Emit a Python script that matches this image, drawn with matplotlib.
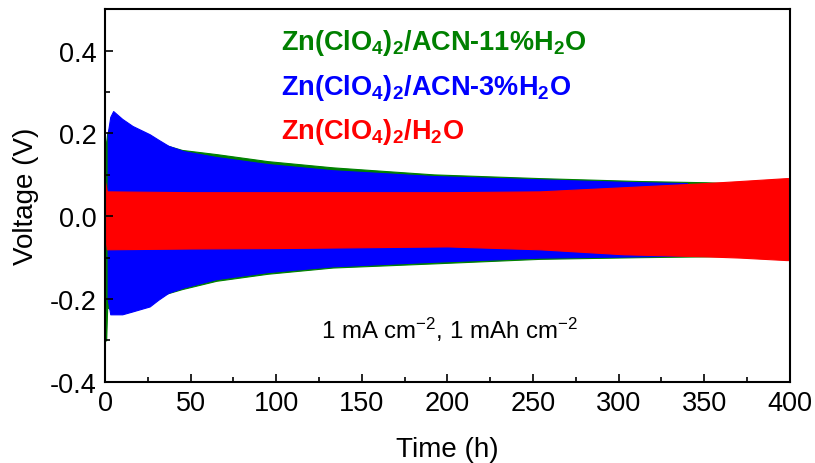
import matplotlib
matplotlib.use('Agg')
import matplotlib.pyplot as plt
from matplotlib.ticker import MultipleLocator

matplotlib.rcParams.update({
    'font.family': 'Liberation Sans',
    'mathtext.default': 'regular',
    'font.size': 19.5,
    'axes.linewidth': 1.5,
    'axes.unicode_minus': False,
})

# envelopes of the voltage profiles (time in h, voltage in V)
green_t = [0, 0.6, 1.2, 5, 15, 25, 35, 45, 65, 95, 133, 192, 254, 312, 351, 363]
green_hi = [0.18, 0.18, 0.20, 0.24, 0.21, 0.19, 0.172, 0.16, 0.150, 0.133, 0.118, 0.101, 0.092, 0.085, 0.082, 0.080]
green_lo = [-0.30, -0.30, -0.22, -0.23, -0.23, -0.21, -0.188, -0.176, -0.156, -0.139, -0.124, -0.114, -0.103, -0.099, -0.097, -0.096]

blue_t = [1.5, 3, 4.7, 10, 16, 26, 31, 37, 46, 65, 95, 133, 192, 254, 312, 340]
blue_hi = [0.20, 0.24, 0.254, 0.235, 0.218, 0.198, 0.185, 0.170, 0.157, 0.143, 0.126, 0.111, 0.097, 0.089, 0.082, 0.080]
blue_lo = [-0.20, -0.237, -0.237, -0.237, -0.23, -0.218, -0.202, -0.185, -0.172, -0.152, -0.135, -0.121, -0.110, -0.100, -0.097, -0.095]

red_t = [0, 1, 50, 100, 150, 200, 254, 303, 351, 371, 398, 400]
red_hi = [0.082, 0.060, 0.058, 0.058, 0.058, 0.058, 0.060, 0.070, 0.080, 0.085, 0.092, 0.092]
red_lo = [-0.05, -0.080, -0.078, -0.077, -0.075, -0.073, -0.080, -0.092, -0.097, -0.100, -0.106, -0.106]

labels = [r'Zn(ClO$_4$)$_2$/ACN-11%H$_2$O',
          r'Zn(ClO$_4$)$_2$/ACN-3%H$_2$O',
          r'Zn(ClO$_4$)$_2$/H$_2$O']
colors = ['#008000', '#0000ff', '#ff0000']

fig = plt.figure(figsize=(8.15, 4.64), dpi=100)
ax = fig.add_axes([0.129, 0.175, 0.840, 0.803])

ax.fill_between(green_t, green_lo, green_hi, color=colors[0], lw=0.8)
ax.fill_between(blue_t, blue_lo, blue_hi, color=colors[1], lw=0.8)
ax.fill_between(red_t, red_lo, red_hi, color=colors[2], lw=0.8)

for i, (lab, c) in enumerate(zip(labels, colors)):
    ax.text(0.257, 0.912 - i * 0.12, lab, color=c, fontweight='bold',
            fontsize=19.5, transform=ax.transAxes, va='center', ha='left')

ax.text(201, -0.272, r'1 mA cm$^{-2}$, 1 mAh cm$^{-2}$', ha='center', va='center', fontsize=17.3)

ax.set_xlim(0, 400)
ax.set_ylim(-0.4, 0.5)
ax.set_yticks([-0.4, -0.2, 0.0, 0.2, 0.4])
ax.xaxis.set_major_locator(MultipleLocator(50))
ax.xaxis.set_minor_locator(MultipleLocator(25))
ax.yaxis.set_minor_locator(MultipleLocator(0.1))
ax.tick_params(which='both', direction='in', width=1.2)
ax.tick_params(which='major', length=6, pad=6)
ax.tick_params(which='minor', length=3.5)

ax.set_xlabel('Time (h)', labelpad=14, fontsize=20)
ax.set_ylabel('Voltage (V)', labelpad=8, fontsize=20)

fig.savefig('out.png', dpi=100)
